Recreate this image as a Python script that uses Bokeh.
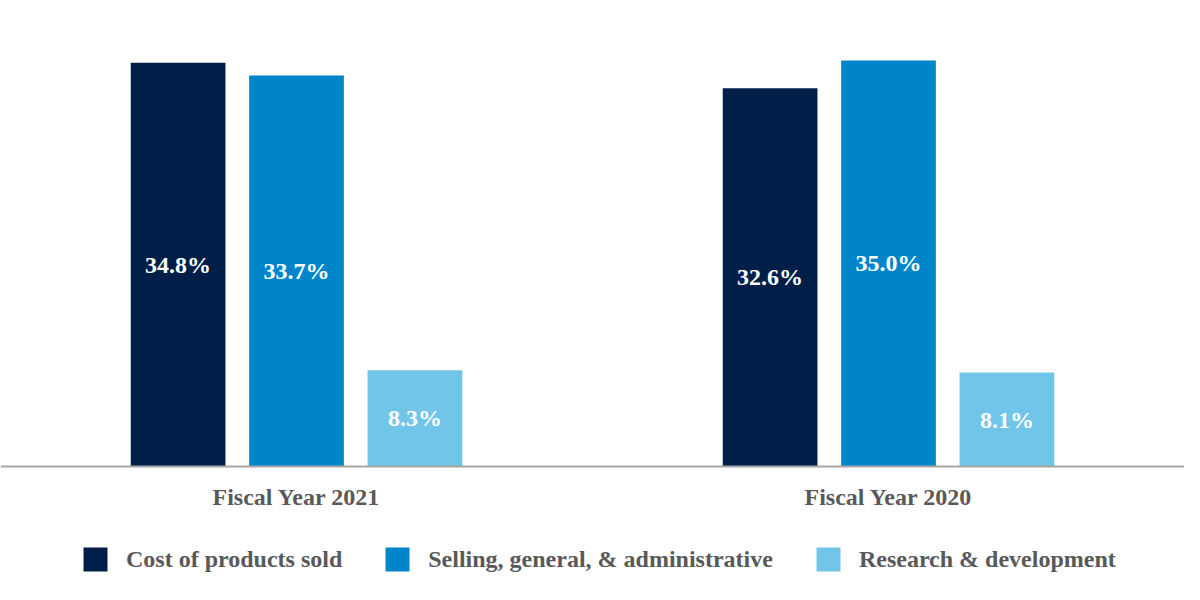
from bokeh.plotting import figure
from bokeh.models import ColumnDataSource, Range1d, Legend, LegendItem, Span
from bokeh.transform import dodge
from bokeh.core.properties import value
from bokeh.embed import file_html
from bokeh.resources import INLINE

# ---- data ----
periods = ["Fiscal Year 2021", "Fiscal Year 2020"]
series_names = ["Cost of products sold", "Selling, general, & administrative", "Research & development"]
cost_of_products_sold = [34.8, 32.6]
selling_general_admin = [33.7, 35.0]
research_development = [8.3, 8.1]
series_values = [cost_of_products_sold, selling_general_admin, research_development]

colors = ["#001f48", "#0085ca", "#71c5e8"]
offsets = [-0.2, 0.0, 0.2]
FONT = "Liberation Serif"
GRAY = "#595959"

group_x = list(range(len(periods)))

p = figure(width=1184, height=584, output_backend="svg", toolbar_location=None,
           x_range=Range1d(-0.5, 1.5), y_range=Range1d(-10.172, 40.172),
           x_axis_location=None, y_axis_location=None,
           min_border_left=0, min_border_right=0, min_border_top=0, min_border_bottom=0)
p.outline_line_color = None
p.xgrid.visible = False
p.ygrid.visible = False
p.background_fill_color = "white"
p.border_fill_color = "white"

renderers = []
for name, vals, col, off in zip(series_names, series_values, colors, offsets):
    src = ColumnDataSource(dict(x=group_x, top=vals, mid=[v / 2 for v in vals],
                                label=[f"{v:.1f}%" for v in vals]))
    r = p.vbar(x=dodge("x", off), top="top", bottom=0, width=0.16, source=src,
               fill_color=col, line_color=None)
    renderers.append(r)
    p.text(x=dodge("x", off), y="mid", text="label", source=src,
           text_align="center", text_baseline="middle", text_color="white",
           text_font=value(FONT), text_font_style="bold", text_font_size="24px")

# baseline
p.add_layout(Span(location=0, dimension="width", line_color="#a6a6a6", line_width=2))

# category labels under the baseline
cat_src = ColumnDataSource(dict(x=group_x, y=[0] * len(periods), label=periods))
p.text(x="x", y="y", text="label", source=cat_src, y_offset=30,
       text_align="center", text_baseline="alphabetic", text_color=GRAY,
       text_font=value(FONT), text_font_style="bold", text_font_size="24px")

lg = Legend(items=[LegendItem(label=n, renderers=[r]) for n, r in zip(series_names, renderers)],
            location=(80, 10), orientation="horizontal", padding=0, margin=0,
            spacing=40, border_line_color=None, background_fill_alpha=0,
            glyph_width=30, glyph_height=30, label_standoff=16,
            label_text_font=FONT, label_text_font_style="bold", label_text_font_size="24px",
            label_text_color=GRAY, click_policy="none")
p.add_layout(lg, "center")

open("out.html", "w").write(file_html(p, INLINE))
